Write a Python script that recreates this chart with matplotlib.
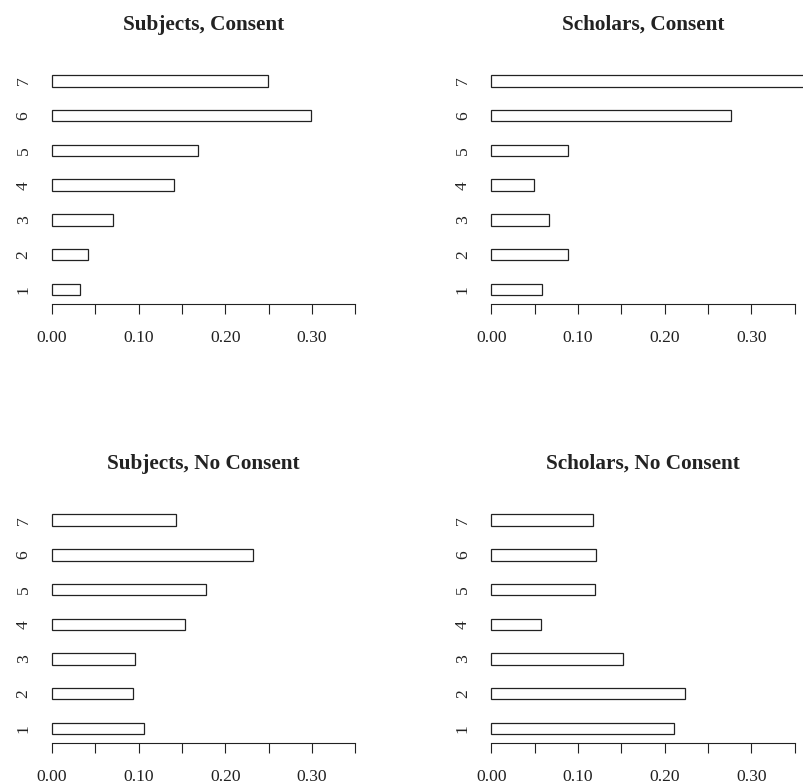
import matplotlib
matplotlib.use("Agg")
from matplotlib import pyplot as plt

# Proportions of responses 1..7 for each panel
levels = ['1', '2', '3', '4', '5', '6', '7']
subjects_consent = [0.032, 0.041, 0.070, 0.141, 0.169, 0.299, 0.249]
scholars_consent = [0.059, 0.088, 0.067, 0.049, 0.088, 0.277, 0.370]
subjects_noconsent = [0.106, 0.094, 0.096, 0.154, 0.178, 0.232, 0.143]
scholars_noconsent = [0.211, 0.223, 0.152, 0.057, 0.120, 0.121, 0.117]

titles = ['Subjects, Consent', 'Scholars, Consent',
          'Subjects, No Consent', 'Scholars, No Consent']
panels = [subjects_consent, scholars_consent, subjects_noconsent, scholars_noconsent]

xticks = [0.0, 0.05, 0.10, 0.15, 0.20, 0.25, 0.30, 0.35]
xticklabels = ['0.00', '', '0.10', '', '0.20', '', '0.30', '']

plt.rcParams['font.family'] = ['Liberation Serif', 'DejaVu Serif']

W, H = 804, 784
fig = plt.figure(figsize=(W / 100, H / 100), dpi=100)

# axes boxes in pixels: left, top, right, bottom (R plot regions)
boxes = [(39.9, 66.4, 367.4, 303.9), (479.2, 66.4, 806.7, 303.9),
         (39.9, 505.7, 367.4, 742.9), (479.2, 505.7, 806.7, 742.9)]

# R barplot with space=2: bar centres at 2.5, 5.5, ...
ypos = [2.5 + 3 * i for i in range(len(levels))]

for title, vals, (l, t, r, b) in zip(titles, panels, boxes):
    ax = fig.add_axes([l / W, 1 - b / H, (r - l) / W, (b - t) / H])
    ax.barh(ypos, vals, height=1, color='white', edgecolor='#222222',
            linewidth=0.9, clip_on=False)
    ax.set_xlim(-0.014, 0.364)
    ax.set_ylim(1.24, 21.76)
    for s in ['top', 'right', 'left']:
        ax.spines[s].set_visible(False)
    ax.spines['bottom'].set_bounds(0, 0.35)
    ax.spines['bottom'].set_linewidth(0.8)
    ax.spines['bottom'].set_color('#222222')
    ax.set_xticks(xticks)
    ax.set_xticklabels(xticklabels)
    ax.tick_params(axis='x', length=7.5, width=0.8, color='#222222',
                   labelsize=12.6, pad=11.3, labelcolor='#222222')
    ax.set_yticks(ypos)
    ax.set_yticklabels(levels, rotation=90, va='center')
    ax.tick_params(axis='y', length=0, labelsize=12.6, pad=6,
                   labelcolor='#222222')
    ax.set_title(title, fontsize=15.3, fontweight='bold', pad=26.5,
                 color='#222222')
    ax.patch.set_visible(False)

fig.savefig('out.png', dpi=100)
